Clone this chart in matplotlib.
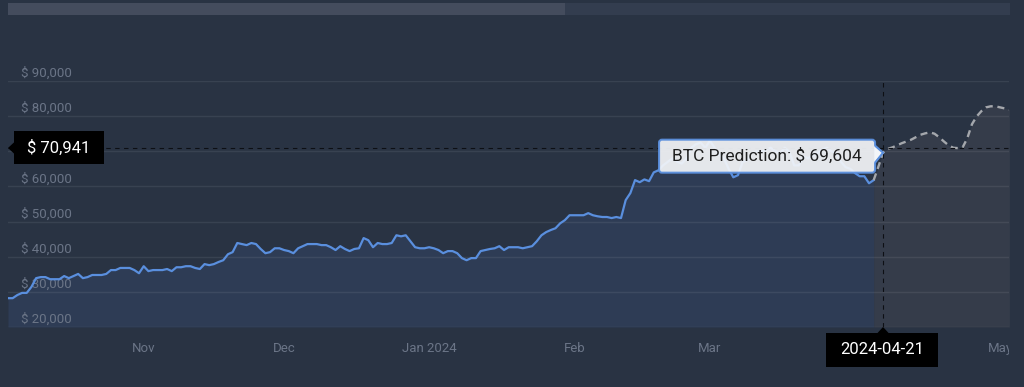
import numpy as np
import pandas as pd
import matplotlib
matplotlib.use('Agg')
import matplotlib.pyplot as plt
import matplotlib.dates as mdates
from matplotlib.patches import FancyBboxPatch, Polygon, Rectangle
from matplotlib.transforms import IdentityTransform, ScaledTranslation, Bbox

plt.rcParams['font.family'] = ['Roboto', 'DejaVu Sans']

# ---------------- data ----------------
history_start = '2023-10-17'
history_prices = [
    28200, 28200, 29100, 29700, 29700, 31400, 33900, 34200, 34200, 33600,
    33600, 33600, 34500, 33900, 34500, 35100, 33900, 34200, 34800, 34800,
    34800, 35100, 36200, 36200, 36800, 36800, 36800, 36200, 35300, 37300,
    35900, 36200, 36200, 36200, 36500, 35900, 37000, 37000, 37300, 37300,
    36800, 36500, 37900, 37600, 37900, 38500, 39000, 40700, 41300, 43900,
    43600, 43300, 43900, 43600, 42200, 41000, 41300, 42400, 42400, 41900,
    41600, 41000, 42400, 43000, 43600, 43600, 43600, 43300, 43300, 42700,
    41900, 43000, 42200, 41600, 42200, 42400, 45300, 44700, 42700, 43900,
    43600, 43600, 43900, 46100, 45800, 46100, 44400, 42700, 42400, 42400,
    42700, 42400, 41900, 41000, 41600, 41600, 41000, 39600, 39000, 39600,
    39600, 41600, 41900, 42200, 42400, 43000, 41900, 42700, 42700, 42700,
    42400, 42700, 43000, 44400, 46100, 47000, 47600, 48100, 49500, 50400,
    51800, 51800, 51800, 51800, 52400, 51800, 51500, 51300, 51300, 51000,
    51300, 51000, 56100, 58100, 61800, 61200, 62000, 61500, 64000, 64600,
    66000, 67000, 68000, 67000, 66500, 68000, 71000, 72000, 72500, 71000,
    73000, 71000, 69000, 68000, 65000, 62600, 63200, 67000, 67500, 69500,
    70000, 69800, 70500, 71000, 70000, 69500, 71000, 69800, 66000, 66000,
    68500, 68000, 69000, 69500, 70500, 71000, 70000, 69500, 67000, 65500,
    65000, 63800, 62900, 62900, 60900, 61800,
]
forecast_start = '2024-04-19'
forecast_prices = [
    61800, 65600, 69604, 70700, 71100, 71700, 72300, 72800, 73300, 74000,
    74700, 75100, 75400, 75000, 74000, 72800, 71700, 71000, 70900, 71100,
    73700, 77700, 79900, 81400, 82500, 82800, 82800, 82500, 82200, 81900,
]
current_price = 70941
current_price_label = '$ 70,941'
prediction_date = '2024-04-21'
prediction_price = 69604
prediction_label = 'BTC Prediction: $ 69,604'

y_ticks = [20000, 30000, 40000, 50000, 60000, 70000, 80000, 90000]
y_tick_labels = ['$ 20,000', '$ 30,000', '$ 40,000', '$ 50,000',
                 '$ 60,000', '$ 70,000', '$ 80,000', '$ 90,000']
month_ticks = ['2023-11-15', '2023-12-15', '2024-01-15', '2024-02-15',
               '2024-03-15', '2024-04-15', '2024-05-16']
month_labels = ['Nov', 'Dec', 'Jan 2024', 'Feb', 'Mar', 'Apr', 'May']
x_range = ['2023-10-17', '2024-05-17 22:00']
y_range = [20000, 90000]

# ---------------- style ----------------
W, H, DPI = 1024, 387, 100
BG = '#293343'
TICK = '#6b7587'
BLUE = '#5a8fde'
HIST_FILL = '#2e3c55'
FC_FILL = '#353c4a'
FC_LINE = '#a4a7ac'

hist_dates = pd.date_range(history_start, periods=len(history_prices), freq='D')
fc_dates = pd.date_range(forecast_start, periods=len(forecast_prices), freq='D')

fig = plt.figure(figsize=(W / DPI, H / DPI), dpi=DPI, facecolor=BG)
ax = fig.add_axes([8 / W, (H - 327) / H, (1009 - 8) / W, (327 - 81) / H])
ax.set_facecolor(BG)
for s in ax.spines.values():
    s.set_visible(False)

ax.set_xlim(pd.Timestamp(x_range[0]), pd.Timestamp(x_range[1]))
ax.set_ylim(*y_range)

# grid + ticks
ax.set_yticks(y_ticks)
ax.set_yticklabels(y_tick_labels)
ax.yaxis.grid(True, color='white', alpha=0.075, linewidth=1.0)
ax.set_axisbelow(True)
ax.tick_params(axis='y', length=0, pad=-9.4, labelsize=9.5, labelcolor=TICK)
for lab in ax.get_yticklabels():
    lab.set_horizontalalignment('left')
    lab.set_transform(lab.get_transform() + ScaledTranslation(0, 6.5 / 72, fig.dpi_scale_trans))

ax.set_xticks([pd.Timestamp(d) for d in month_ticks])
ax.set_xticklabels(month_labels)
ax.tick_params(axis='x', length=0, pad=11, labelsize=9.5, labelcolor=TICK)
clip_bb = Bbox.from_extents(0, 0, 1009, H)
for t in ax.xaxis.get_major_ticks():
    t.label1.set_clip_box(clip_bb)
    t.label1.set_clip_on(True)

# history
ax.fill_between(hist_dates, history_prices, y_range[0], color=HIST_FILL, linewidth=0, zorder=0.2)
ax.plot(hist_dates, history_prices, color=BLUE, linewidth=1.6, zorder=3, solid_joinstyle='round')

# forecast
ax.fill_between(fc_dates, forecast_prices, y_range[0], color=FC_FILL, linewidth=0, zorder=0.2)
ax.plot(fc_dates, forecast_prices, color=FC_LINE, linewidth=1.7, linestyle=(0, (3, 2)), zorder=3)

# crosshairs
pred_ts = pd.Timestamp(prediction_date)
ax.axhline(current_price, color='#0d0f14', linewidth=0.8, linestyle=(0, (4, 4)), zorder=4)
ax.axvline(pred_ts, color='#0d0f14', linewidth=0.8, linestyle=(0, (4, 4)), zorder=4)

ID = IdentityTransform()

# ---- anchors in pixel space
px_pred = ax.transData.transform((mdates.date2num(pred_ts), prediction_price))
px_cur = ax.transData.transform((mdates.date2num(pd.Timestamp(x_range[0])), current_price))
ax_bottom = ax.transAxes.transform((0, 0))[1]

# left current price label
lx, ly = px_cur
fig.add_artist(FancyBboxPatch((lx + 6, ly - 16.5), 90, 33, boxstyle='square,pad=0',
                              facecolor='black', edgecolor='none', transform=ID, zorder=10))
fig.add_artist(Polygon([(lx, ly), (lx + 7, ly + 6.5), (lx + 7, ly - 6.5)], closed=True,
                       facecolor='black', edgecolor='none', transform=ID, zorder=10))
fig.text((lx + 51) / W, (ly + 0.5) / H, current_price_label, color='white', fontsize=12,
         ha='center', va='center', zorder=11)

# bottom date label
bx = px_pred[0]
fig.add_artist(FancyBboxPatch((bx - 57, ax_bottom - 40), 112, 34, boxstyle='square,pad=0',
                              facecolor='black', edgecolor='none', transform=ID, zorder=10))
fig.add_artist(Polygon([(bx, ax_bottom), (bx - 6, ax_bottom - 6.5), (bx + 6, ax_bottom - 6.5)],
                       closed=True, facecolor='black', edgecolor='none', transform=ID, zorder=10))
fig.text((bx - 1) / W, (ax_bottom - 23) / H, prediction_date, color='white', fontsize=12,
         ha='center', va='center', zorder=11)

# tooltip
tx, ty = px_pred
tip_left, tip_right = tx - 224, tx - 8
tip_bottom, tip_top = ty - 20, ty + 13
fig.add_artist(FancyBboxPatch((tip_left, tip_bottom), tip_right - tip_left, tip_top - tip_bottom,
                              boxstyle='round,pad=0,rounding_size=3',
                              facecolor='#f3f5f8', edgecolor=BLUE, linewidth=1.5, alpha=0.93,
                              transform=ID, zorder=8))
fig.add_artist(Polygon([(tip_right - 1, ty + 7), (tx, ty), (tip_right - 1, ty - 10)], closed=True,
                       facecolor='#f3f5f8', edgecolor='none', transform=ID, zorder=9))
fig.add_artist(Polygon([(tip_right, ty + 7), (tx, ty), (tip_right, ty - 10)], closed=False, fill=False,
                       edgecolor=BLUE, linewidth=1.5, transform=ID, zorder=9))
fig.text(((tip_left + tip_right) / 2) / W, (ty - 3.5) / H, prediction_label, color='#1e1e1e',
         fontsize=12.5, ha='center', va='center', zorder=11)

# top scrollbar
fig.add_artist(Rectangle((8, H - 15), 1002, 12, facecolor='#333d4f', edgecolor='none', transform=ID, zorder=2))
fig.add_artist(Rectangle((8, H - 15), 557, 12, facecolor='#444c5d', edgecolor='none', transform=ID, zorder=3))

fig.savefig('out.png', dpi=DPI, facecolor=BG)
